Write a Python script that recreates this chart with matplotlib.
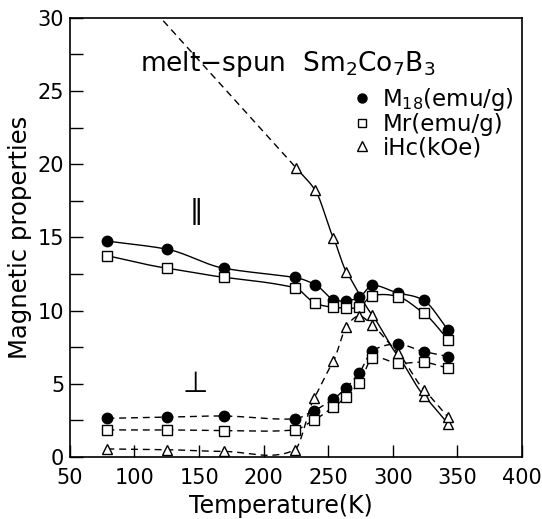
import numpy as np
import matplotlib
matplotlib.use("Agg")
import matplotlib.pyplot as plt
from matplotlib.lines import Line2D

# ---- data ----
T_par = [79, 125, 169, 224, 240, 254, 264, 274, 284, 304, 324, 343]
m18_par = [14.75, 14.2, 12.9, 12.27, 11.78, 10.75, 10.68, 10.9, 11.72, 11.2, 10.7, 8.65]
mr_par = [13.75, 12.9, 12.28, 11.57, 10.5, 10.23, 10.18, 10.23, 11.02, 10.96, 9.82, 8.0]

T_ihc_par = [225, 240, 254, 264, 284, 304, 324, 343]
ihc_par = [19.77, 18.22, 14.97, 12.67, 9.7, 6.9, 4.2, 2.25]
T_ihc_extrap = [110, 225]
ihc_extrap = [31.0, 19.77]

T_perp = [79, 125, 169, 224, 239, 254, 264, 274, 284, 304, 324, 343]
m18_perp = [2.64, 2.72, 2.8, 2.6, 3.17, 3.96, 4.74, 5.76, 7.25, 7.72, 7.2, 6.86]
mr_perp = [1.85, 1.85, 1.8, 1.85, 2.53, 3.4, 4.12, 5.08, 6.74, 6.4, 6.47, 6.06]
ihc_perp = [0.55, 0.5, 0.38, 0.48, 4.0, 6.56, 8.9, 9.64, 9.0, 7.1, 4.6, 2.7]

x_ticks = [50, 100, 150, 200, 250, 300, 350, 400]
y_ticks = [0, 5, 10, 15, 20, 25, 30]


def smooth_curve(x, y, n=30, tension=0.2):
    """Cardinal cubic Hermite curve through the points."""
    x = np.asarray(x, float)
    y = np.asarray(y, float)
    k = len(x)
    m = np.zeros(k)
    m[0] = (y[1] - y[0]) / (x[1] - x[0])
    m[-1] = (y[-1] - y[-2]) / (x[-1] - x[-2])
    for i in range(1, k - 1):
        m[i] = (1 - tension) * (y[i + 1] - y[i - 1]) / (x[i + 1] - x[i - 1])
    xs, ys = [], []
    for i in range(k - 1):
        h = x[i + 1] - x[i]
        t = np.linspace(0, 1, n)
        h00 = 2 * t**3 - 3 * t**2 + 1
        h10 = t**3 - 2 * t**2 + t
        h01 = -2 * t**3 + 3 * t**2
        h11 = t**3 - t**2
        xs.append(x[i] + t * h)
        ys.append(h00 * y[i] + h10 * h * m[i] + h01 * y[i + 1] + h11 * h * m[i + 1])
    return np.concatenate(xs), np.concatenate(ys)


plt.rcParams['font.family'] = ['DejaVu Sans']
fig = plt.figure(figsize=(5.42, 5.19), dpi=100)
ax = fig.add_axes([0.129, 0.1195, 0.834, 0.846])

lw = 1.0
dash = (0, (5, 3.5))
ms_c, ms_s, ms_t = 7.5, 6.5, 7

# parallel (solid)
for T, v, mk, fc, ms in [(T_par, m18_par, 'o', 'black', ms_c),
                          (T_par, mr_par, 's', 'white', ms_s),
                          (T_ihc_par, ihc_par, '^', 'white', ms_t)]:
    sx, sy = smooth_curve(T, v)
    ax.plot(sx, sy, color='black', lw=lw, zorder=2)
    ax.plot(T, v, ls='none', marker=mk, mfc=fc, mec='black', mew=1.0, ms=ms, zorder=3)

ax.plot(T_ihc_extrap, ihc_extrap, color='black', lw=lw, ls=dash, zorder=2)

# perpendicular (dashed)
for v, mk, fc, ms in [(m18_perp, 'o', 'black', ms_c),
                      (mr_perp, 's', 'white', ms_s),
                      (ihc_perp, '^', 'white', ms_t)]:
    sx, sy = smooth_curve(T_perp, v)
    ax.plot(sx, sy, color='black', lw=lw, ls=dash, zorder=2)
    ax.plot(T_perp, v, ls='none', marker=mk, mfc=fc, mec='black', mew=1.0, ms=ms, zorder=3)

ax.set_xlim(50, 400)
ax.set_ylim(0, 30)
ax.set_xticks(x_ticks)
ax.set_yticks(y_ticks)
ax.set_yticks(np.arange(2.5, 30, 5), minor=True)
ax.tick_params(axis='both', which='both', direction='in', labelsize=15,
               color='black', width=1.0)
ax.tick_params(which='major', length=9)
ax.tick_params(which='minor', length=9)
ax.tick_params(axis='x', pad=8)
ax.tick_params(axis='y', pad=4)
for s in ax.spines.values():
    s.set_linewidth(1.2)

ax.set_xlabel('Temperature(K)', fontsize=17, labelpad=0)
ax.xaxis.set_label_coords(0.467, -0.085)
ax.set_ylabel('Magnetic properties', fontsize=17.5, labelpad=4)

ax.text(0.155, 0.895, r'melt$-$spun  Sm$_2$Co$_7$B$_3$', transform=ax.transAxes,
        fontsize=19, ha='left', va='center')
ax.text(0.279, 0.558, '\u2016', transform=ax.transAxes, fontsize=19, ha='center', va='center')
ax.text(0.277, 0.166, '\u22a5', transform=ax.transAxes, fontsize=21, ha='center', va='center')

handles = [
    Line2D([], [], ls='none', marker='o', mfc='black', mec='black', ms=6.5),
    Line2D([], [], ls='none', marker='s', mfc='white', mec='black', ms=6),
    Line2D([], [], ls='none', marker='^', mfc='white', mec='black', ms=6.5),
]
labels = [r'M$_{18}$(emu/g)', 'Mr(emu/g)', 'iHc(kOe)']
ax.legend(handles, labels, loc='upper left', bbox_to_anchor=(0.6, 0.87),
          frameon=False, fontsize=16.5, handlelength=0.8, handletextpad=0.5,
          labelspacing=0.0, borderpad=0)

fig.savefig('out.png', dpi=100)
